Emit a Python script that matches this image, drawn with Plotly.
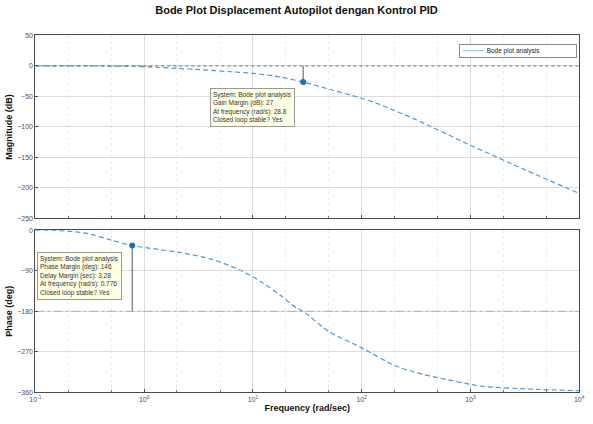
import plotly.graph_objects as go

# ---- data ----
mag_freq = [0.1, 0.3, 0.6, 0.8, 1.0, 2.0, 3.2, 6.3, 10, 17.8, 29, 50, 100, 141, 200, 316, 1000, 3162, 10000]
mag_db = [0, 0, -0.2, -0.5, -1.2, -4, -6, -9.5, -12, -18, -26.5, -38, -53, -62, -73, -88, -130, -170, -209]

ph_freq = [0.1, 0.15, 0.2, 0.28, 0.35, 0.5, 0.77, 1.3, 2.2, 4, 7.4, 11.7, 18, 25, 29, 50, 100, 200, 316, 500, 1260, 4000, 10000]
ph_deg = [0, -0.5, -2, -6, -11, -22, -34, -42, -50, -63, -87, -113, -145, -172, -180, -225, -261, -300, -316, -327, -346, -353, -356]

gm_freq = 29
gm_db = -26.5
pm_freq = 0.777
pm_deg = -34

mag_ticks = [50, 0, -50, -100, -150, -200, -250]
ph_ticks = [0, -90, -180, -270, -360]
x_tickvals = [0.1, 1, 10, 100, 1000, 10000]
x_ticktext = ["10<sup>-1</sup>", "10<sup>0</sup>", "10<sup>1</sup>", "10<sup>2</sup>", "10<sup>3</sup>", "10<sup>4</sup>"]

series_name = "Bode plot analysis"
gm_text = ("System: Bode plot analysis<br>Gain Margin (dB): 27<br>"
           "At frequency (rad/s): 28.8<br>Closed loop stable? Yes")
pm_text = ("System: Bode plot analysis<br>Phase Margin (deg): 146<br>Delay Margin (sec): 3.28<br>"
           "At frequency (rad/s): 0.776<br>Closed loop stable? Yes")

LINE = "#4c9ad6"
MARK = "#1f6fb8"
FONT = "Liberation Sans, Arial, sans-serif"
DASH = "5px,3px"

fig = go.Figure()
fig.add_trace(go.Scatter(x=mag_freq, y=mag_db, mode="lines", name=series_name,
                         line=dict(color=LINE, width=1.2, shape="spline", smoothing=0.8, dash=DASH),
                         showlegend=False, xaxis="x", yaxis="y"))
fig.add_trace(go.Scatter(x=ph_freq, y=ph_deg, mode="lines", name=series_name,
                         line=dict(color=LINE, width=1.2, shape="spline", smoothing=0.6, dash=DASH),
                         showlegend=False, xaxis="x2", yaxis="y2"))
# margin marker lines
fig.add_trace(go.Scatter(x=[gm_freq, gm_freq], y=[0, gm_db], mode="lines", line=dict(color="#555555", width=1),
                         showlegend=False, xaxis="x", yaxis="y"))
fig.add_trace(go.Scatter(x=[pm_freq, pm_freq], y=[-180, pm_deg], mode="lines", line=dict(color="#555555", width=1),
                         showlegend=False, xaxis="x2", yaxis="y2"))
fig.add_trace(go.Scatter(x=[gm_freq], y=[gm_db], mode="markers", marker=dict(color=MARK, size=6),
                         showlegend=False, xaxis="x", yaxis="y"))
fig.add_trace(go.Scatter(x=[pm_freq], y=[pm_deg], mode="markers", marker=dict(color=MARK, size=6),
                         showlegend=False, xaxis="x2", yaxis="y2"))
# reference lines
fig.add_trace(go.Scatter(x=[0.1, 10000], y=[0, 0], mode="lines", line=dict(color="#707070", width=1, dash="dot"),
                         showlegend=False, xaxis="x", yaxis="y"))
fig.add_trace(go.Scatter(x=[0.1, 10000], y=[-180, -180], mode="lines", line=dict(color="#b0b0b0", width=1, dash="dashdot"),
                         showlegend=False, xaxis="x2", yaxis="y2"))

xd = [30 / 593, 585 / 593]
common_x = dict(type="log", range=[-1, 4], domain=xd, showline=True, mirror=True, linecolor="#4a4a4a",
                linewidth=1, ticks="inside", ticklen=3, tickcolor="#4a4a4a", tickvals=x_tickvals,
                showgrid=True, gridcolor="#dcdcdc", zeroline=False,
                minor=dict(ticks="inside", ticklen=2, tickcolor="#777777", showgrid=True, gridcolor="#ececec", griddash="dot"),
                tickfont=dict(size=7, color="#505050", family=FONT))
common_y = dict(showline=True, mirror=True, linecolor="#4a4a4a", linewidth=1, ticks="inside", ticklen=3,
                tickcolor="#4a4a4a", showgrid=True, gridcolor="#dcdcdc", zeroline=False,
                tickfont=dict(size=7, color="#505050", family=FONT))

legend_text = ("<span style='color:#9cc8e8'>\u2501\u2501\u2501\u2501\u2501</span>  "
               f"<span style='color:#222222'>{series_name}</span>")

fig.update_layout(
    width=593, height=424, margin=dict(l=0, r=0, t=0, b=0),
    paper_bgcolor="white", plot_bgcolor="white",
    font=dict(family=FONT),
    title=dict(text="<b>Bode Plot Displacement Autopilot dengan Kontrol PID</b>", x=0.5, xanchor="center",
               y=1 - 10 / 424, yanchor="middle", font=dict(size=11, color="#111111", family=FONT)),
    xaxis=dict(common_x, anchor="y", showticklabels=False),
    yaxis=dict(common_y, domain=[1 - 218 / 424, 1 - 32 / 424], range=[-250, 50], tickvals=mag_ticks,
               title=dict(text="<b>Magnitude (dB)</b>", font=dict(size=9, color="#111111"), standoff=3)),
    xaxis2=dict(common_x, anchor="y2", ticktext=x_ticktext,
                title=dict(text="<b>Frequency (rad/sec)</b>", font=dict(size=9, color="#111111"), standoff=2)),
    yaxis2=dict(common_y, domain=[1 - 395 / 424, 1 - 230 / 424], range=[-360, 0], tickvals=ph_ticks,
                title=dict(text="<b>Phase (deg)</b>", font=dict(size=9, color="#111111"), standoff=3)),
    showlegend=False,
    annotations=[
        dict(text=legend_text, xref="paper", yref="paper", x=583 / 593, y=1 - 41 / 424, xanchor="right", yanchor="top",
             showarrow=False, align="left", bgcolor="white", bordercolor="#8a8a8a", borderwidth=1, borderpad=2,
             font=dict(size=6.5, family=FONT), width=112),
        dict(text=gm_text, xref="paper", yref="paper", x=208 / 593, y=1 - 85 / 424, xanchor="left", yanchor="top",
             showarrow=False, align="left", bgcolor="#ffffe6", bordercolor="#9a9a9a", borderwidth=1, borderpad=2,
             font=dict(size=6.5, color="#333333")),
        dict(text=pm_text, xref="paper", yref="paper", x=32 / 593, y=1 - 252 / 424, xanchor="left", yanchor="top",
             showarrow=False, align="left", bgcolor="#ffffe6", bordercolor="#9a9a9a", borderwidth=1, borderpad=2,
             font=dict(size=6.5, color="#333333")),
    ],
)

fig.write_html("out.html")
